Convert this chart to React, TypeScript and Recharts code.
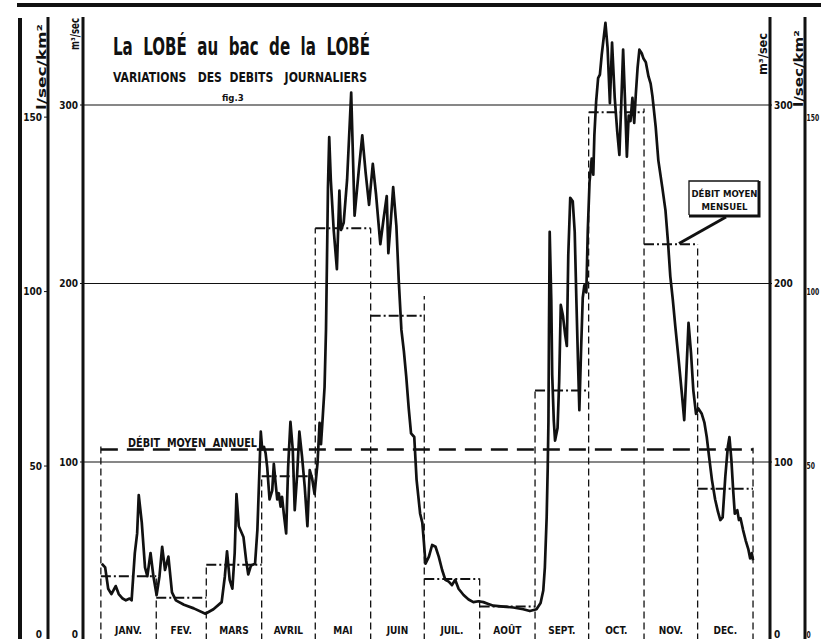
import React from 'react';
import { Line, LineChart, ReferenceLine, XAxis, YAxis } from 'recharts';

// La Lobé au bac de la Lobé - débits journaliers (m3/s)
const monthNames = ['JANV.', 'FEV.', 'MARS', 'AVRIL', 'MAI', 'JUIN', 'JUIL.', 'AOÛT', 'SEPT.', 'OCT.', 'NOV.', 'DEC.'];
const monthStart = [0, 31, 59, 90, 120, 151, 181, 212, 243, 273, 304, 334, 365];
const monthlyMean = [36, 24, 42.5, 92, 231, 182, 34.5, 19, 140, 296, 222, 85];
// height reached by the dashed month separators
const boundaryTop = [110, 36, 42.5, 92, 231, 231, 193, 36, 140, 296, 298, 222, 108];
const annualMean = 107;
const flowTicks = [0, 100, 200, 300];
const specificTicks = [0, 50, 100, 150];

// [day of year, m3/s]
const dailyFlow: [number, number][] = [
  [0.5, 43], [2.4, 41], [4.1, 29], [5.9, 26], [8.3, 30.5], [10, 26], [12.2, 23.5], [14, 22.5], [16.1, 23.5],
  [17.2, 22.5], [19, 49], [20.3, 60], [21.2, 81.5], [22.9, 66], [24.7, 41], [26, 36], [27.8, 49], [29.4, 36],
  [31.2, 25.5], [32.8, 36], [34.3, 52.5], [35.9, 39.5], [37.8, 47], [39.8, 27], [42, 22.5], [46.5, 20],
  [52, 18], [58.5, 15],
  [63, 17.5], [67.6, 21.5], [69.4, 36], [70.6, 50], [72.1, 34], [73.6, 29], [74.9, 49], [75.9, 82], [77.2, 64],
  [79.8, 58], [81.3, 45], [82.5, 37], [84, 42], [86.3, 43], [87.6, 62], [89.5, 117],
  [90.3, 107], [91.3, 108.5], [92.2, 105], [93.1, 97], [94.4, 79], [95.9, 84], [96.8, 99], [97.8, 88],
  [98.7, 79], [99.6, 82.5], [100.6, 75], [101.4, 80.5], [102.4, 71], [103.7, 60], [104.8, 97], [106.1, 122.5],
  [107.4, 107], [108.5, 73], [109.8, 92], [111.1, 117], [112.6, 103], [114.1, 86], [115.6, 64], [116.9, 95.5],
  [118.2, 91], [119.6, 82],
  [121.3, 100], [122.4, 122], [123.2, 110], [124.1, 124], [125.2, 142], [126, 174], [126.7, 224], [127.1, 254],
  [127.8, 282], [128.7, 258], [130.3, 230], [132.1, 208], [133.5, 252], [134.4, 230], [135.9, 234],
  [137.8, 258], [140.1, 307], [142, 238], [144.4, 264], [146.3, 283], [148.2, 262], [150.1, 244],
  [152.2, 267], [154, 250], [156.4, 222], [158.2, 236], [160, 249], [160.9, 217], [162.2, 234], [163.6, 254],
  [165.4, 232], [166.7, 202], [168.2, 174], [169.6, 162], [170.9, 148], [172.3, 130], [173.6, 116],
  [175.4, 114], [176.7, 90], [178.7, 71], [179.9, 66], [180.8, 55],
  [181.7, 43], [183.6, 47], [185.4, 53.5], [187.3, 52.5], [189.1, 47], [191, 39.5], [192.8, 34], [194.7, 33],
  [196.5, 31], [198.3, 34], [200.2, 29], [203, 25.5], [205.8, 23], [208.5, 21.5], [211.3, 22],
  [214.1, 21.5], [216.9, 20.5], [219.7, 19.5], [225.2, 19], [230.8, 18.5], [236.4, 17.5], [240.1, 16.5],
  [243.8, 17.5], [246.1, 21], [247.6, 28], [248.5, 41], [249.5, 69], [250.1, 97], [250.5, 123], [250.8, 174],
  [251.2, 229], [252.1, 190], [252.6, 149], [253.5, 123], [254.2, 112], [255.6, 119], [256.5, 145],
  [257.4, 188], [258.6, 182], [259.9, 171], [260.8, 165], [261.6, 216], [262.7, 248], [264.1, 246],
  [265.2, 229], [266.1, 192], [267.1, 154], [267.8, 129], [268.8, 164], [269.7, 192], [270.6, 199],
  [271.7, 195], [272.5, 229],
  [273.5, 257], [274.7, 270], [275.6, 261], [276.2, 283], [277.2, 302], [278.3, 315], [279.3, 317],
  [280.3, 328], [282.4, 346], [283.6, 332], [284.9, 301], [286.1, 335], [287.6, 304], [289, 285], [290.2, 272],
  [291.3, 302], [292.3, 331], [293.3, 304], [294.4, 271], [295.4, 294], [296.4, 291], [297.5, 304],
  [298.5, 290], [299.4, 306], [300.4, 321], [301.4, 331], [302.7, 329], [303.7, 326],
  [305, 324], [306.5, 316], [307.7, 312], [308.7, 305], [310.5, 288], [312, 269], [314.2, 254], [316, 241],
  [317.5, 222], [318.7, 204], [320.1, 191], [321.5, 176], [323.4, 157], [325.2, 138], [326.5, 123.5],
  [327.6, 148], [328.9, 178], [330.3, 161], [331.6, 140], [333.1, 127],
  [334.4, 130], [336.3, 127], [337.8, 122], [339.1, 114], [340.4, 103], [342, 90], [343.8, 79], [345.4, 72],
  [346.7, 67.5], [348, 69], [349.5, 92], [350.9, 108.5], [351.8, 114], [352.9, 101], [353.9, 84], [354.8, 71],
  [356.2, 73], [357.1, 67.5], [358, 68.5], [359.4, 62], [360.9, 56], [362.4, 51], [363.4, 46], [364.3, 49],
  [365, 45],
];

const curveData = dailyFlow.map(([day, q]) => ({ day, q }));
const meanData = monthlyMean.flatMap((m, i) => [
  { day: monthStart[i], v: m },
  { day: monthStart[i + 1], v: m },
  { day: monthStart[i + 1], v: null },
]);
const boundaryData = boundaryTop.flatMap((top, i) => [
  { day: monthStart[i], v: 0 },
  { day: monthStart[i], v: top },
  { day: monthStart[i], v: null },
]);
const annualData = [
  { day: 0, v: annualMean },
  { day: 365, v: annualMean },
];
const monthMid = monthNames.map((_, i) => (monthStart[i] + monthStart[i + 1]) / 2);

const FONT = '"Liberation Sans Narrow", "DejaVu Sans Condensed", "Liberation Sans", Arial, sans-serif';
const INK = '#111';
const W = 821;
const H = 645;
const TOP = 17;
const BOTTOM = 4.5;
const axisLineStyle = { stroke: INK, strokeWidth: 3 };
const tickLineStyle = { stroke: INK, strokeWidth: 1 };

const MonthTick = (props: any) => {
  const { x, y, payload } = props;
  const i = monthMid.indexOf(payload.value);
  return (
    <text x={x} y={y} dy={1} textAnchor="middle" fill={INK} fontSize={10} fontWeight={700} fontFamily={FONT}>
      {monthNames[i]}
    </text>
  );
};

// the zero labels sit on the lower edge of the sheet, lift them a little
const ScaleTick = (props: any) => {
  const { x, y, payload, textAnchor, narrow } = props;
  const label = String(payload.value);
  const squeeze = narrow ? { textLength: label.length * 4.2, lengthAdjust: 'spacingAndGlyphs' } : {};
  return (
    <text
      x={x}
      y={payload.value === 0 ? y - 6 : y}
      dy="0.355em"
      textAnchor={textAnchor}
      fill={INK}
      fontSize={narrow ? 9.5 : 10}
      fontWeight={700}
      fontFamily={FONT}
      {...squeeze}
    >
      {label}
    </text>
  );
};

const layer: React.CSSProperties = { position: 'absolute', left: 0, top: 0 };

const App: React.FC = () => {
  return (
    <div style={{ position: 'absolute', left: 0, top: 0, width: W, height: 639, overflow: 'hidden', background: '#fff' }}>
      {/* main chart, m3/s scale on both sides */}
      <div style={layer}>
        <LineChart width={W} height={H} margin={{ top: TOP, right: 16, bottom: BOTTOM, left: 48 }}>
          <XAxis
            type="number"
            dataKey="day"
            domain={[-10, 374.5]}
            ticks={monthMid}
            interval={0}
            tick={<MonthTick />}
            mirror
            axisLine={false}
            tickLine={false}
            allowDataOverflow
          />
          <YAxis
            yAxisId="m3"
            orientation="left"
            width={35}
            domain={[0, 349.3]}
            ticks={flowTicks}
            interval={0}
            tick={<ScaleTick />}
            tickSize={3}
            tickMargin={2}
            axisLine={axisLineStyle}
            tickLine={tickLineStyle}
            allowDataOverflow
          />
          <YAxis
            yAxisId="m3r"
            orientation="right"
            width={35}
            domain={[0, 349.3]}
            ticks={flowTicks}
            interval={0}
            tick={<ScaleTick />}
            tickSize={2}
            tickMargin={2}
            axisLine={axisLineStyle}
            tickLine={tickLineStyle}
            allowDataOverflow
          />

          {flowTicks.slice(1).map((t) => (
            <ReferenceLine key={t} yAxisId="m3" y={t} stroke={INK} strokeWidth={1.2} />
          ))}

          <Line
            yAxisId="m3"
            data={boundaryData}
            dataKey="v"
            stroke={INK}
            strokeWidth={1.3}
            strokeDasharray="7 4"
            dot={false}
            connectNulls={false}
            isAnimationActive={false}
          />
          <Line
            yAxisId="m3"
            data={meanData}
            dataKey="v"
            stroke={INK}
            strokeWidth={2}
            strokeDasharray="10 3 2 3"
            dot={false}
            connectNulls={false}
            isAnimationActive={false}
          />
          <Line
            yAxisId="m3"
            data={annualData}
            dataKey="v"
            stroke={INK}
            strokeWidth={2.6}
            strokeDasharray="17 9"
            dot={false}
            isAnimationActive={false}
          />
          <Line
            yAxisId="m3"
            data={curveData}
            dataKey="q"
            type="linear"
            stroke={INK}
            strokeWidth={2.7}
            strokeLinejoin="round"
            dot={false}
            isAnimationActive={false}
          />
        </LineChart>
      </div>

      {/* outer scales in l/sec/km2 */}
      <div style={{ ...layer, pointerEvents: 'none' }}>
        <LineChart width={W} height={H} margin={{ top: TOP, right: 0, bottom: BOTTOM, left: 20 }}>
          <XAxis type="number" dataKey="day" domain={[0, 1]} hide allowDataOverflow />
          <YAxis
            yAxisId="lkm"
            orientation="left"
            width={28}
            domain={[0, 178.7]}
            ticks={specificTicks}
            interval={0}
            tick={<ScaleTick />}
            tickSize={4}
            tickMargin={2}
            axisLine={axisLineStyle}
            tickLine={tickLineStyle}
            allowDataOverflow
          />
          <YAxis
            yAxisId="lkmr"
            orientation="right"
            width={16}
            domain={[0, 178.7]}
            ticks={specificTicks}
            interval={0}
            tick={<ScaleTick narrow />}
            tickSize={1}
            tickMargin={0.5}
            axisLine={axisLineStyle}
            tickLine={tickLineStyle}
            allowDataOverflow
          />
        </LineChart>
      </div>

      <svg width={W} height={639} style={{ ...layer, pointerEvents: 'none' }}>
        <line x1={17} y1={5} x2={W} y2={5} stroke={INK} strokeWidth={4} />
        <line x1={20} y1={18} x2={20} y2={639} stroke={INK} strokeWidth={4} />
        <g fill={INK} fontFamily={FONT}>
          <text x={113} y={55} fontSize={24} fontWeight={700} textLength={257} lengthAdjust="spacingAndGlyphs" style={{ whiteSpace: 'pre' }}>
            {'La  LOBÉ  au  bac  de  la  LOBÉ'}
          </text>
          <text x={113} y={82} fontSize={14.5} fontWeight={700} textLength={254} lengthAdjust="spacingAndGlyphs" style={{ whiteSpace: 'pre' }}>
            {'VARIATIONS   DES  DEBITS   JOURNALIERS'}
          </text>
          <text x={222} y={101} fontSize={9.5} fontWeight={700}>fig.3</text>

          <text transform="translate(46,110) rotate(-90)" fontSize={12.5} fontWeight={700} textLength={86} lengthAdjust="spacingAndGlyphs">
            l/sec/km²
          </text>
          <text transform="translate(79,50) rotate(-90)" fontSize={11.5} fontWeight={700} textLength={32} lengthAdjust="spacingAndGlyphs">
            m³/sec
          </text>
          <text transform="translate(767,75) rotate(-90)" fontSize={11.5} fontWeight={700} textLength={42} lengthAdjust="spacingAndGlyphs">
            m³/sec
          </text>
          <text transform="translate(803,107) rotate(-90)" fontSize={12.5} fontWeight={700} textLength={77} lengthAdjust="spacingAndGlyphs">
            l/sec/km²
          </text>

          <text x={128} y={447} fontSize={12} fontWeight={700} textLength={129} lengthAdjust="spacingAndGlyphs" style={{ whiteSpace: 'pre' }}>
            {'DÉBIT  MOYEN  ANNUEL'}
          </text>

          <text x={724.5} y={197} fontSize={9.5} fontWeight={700} textAnchor="middle">DÉBIT MOYEN</text>
          <text x={724.5} y={210} fontSize={9.5} fontWeight={700} textAnchor="middle">MENSUEL</text>
        </g>
        <path d="M689,215 L689,181 L759,181" fill="none" stroke={INK} strokeWidth={1.3} />
        <path d="M689,216 L759,216 L759,181" fill="none" stroke={INK} strokeWidth={3} />
        <line x1={726} y1={217} x2={679} y2={243.5} stroke={INK} strokeWidth={3} />
      </svg>
    </div>
  );
};

export default App;
